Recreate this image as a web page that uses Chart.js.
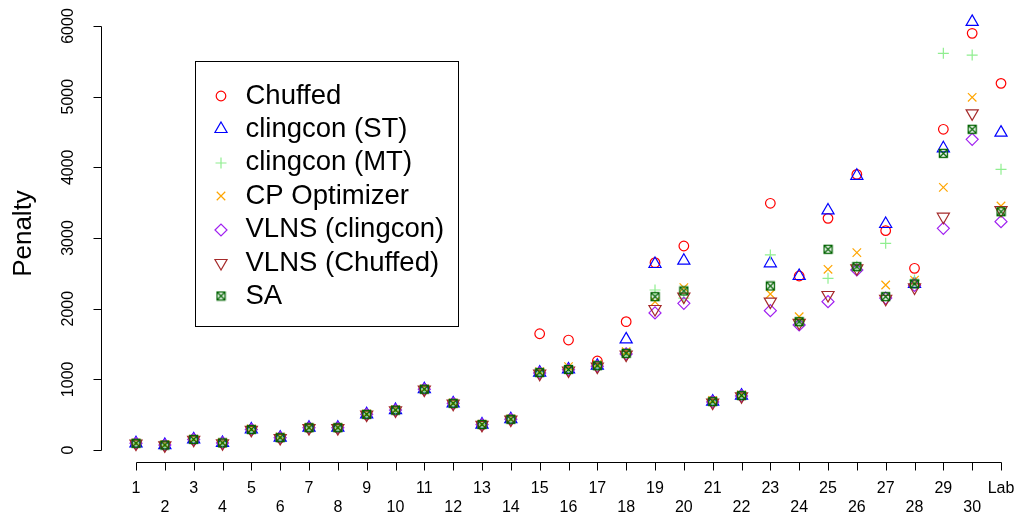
<!DOCTYPE html>
<html>
<head>
<meta charset="utf-8">
<script src="https://cdn.jsdelivr.net/npm/chart.js@4"></script>
<style>
  html, body { margin: 0; padding: 0; background: #fff; }
  #wrap { width: 1022px; height: 518px; }
</style>
</head>
<body>
<div id="wrap"><canvas id="penaltyChart" width="1022" height="518"></canvas></div>
<script>
// instance labels on the x axis
const categories = ['1','2','3','4','5','6','7','8','9','10','11','12','13','14','15','16','17','18','19','20',
                    '21','22','23','24','25','26','27','28','29','30','Lab'];
const yTicks = [0, 1000, 2000, 3000, 4000, 5000, 6000];

// penalty values per solver
const chuffed     = [95,70,150,100,290,175,315,315,505,565,860,660,360,435,1645,1556,1260,1816,2651,2887,690,770,3491,2462,3278,3900,3104,2571,4538,5896,5188];
const clingconST  = [95,70,150,100,290,175,315,315,505,565,860,660,360,435,1095,1140,1193,1566,2632,2679,685,770,2642,2462,3390,3880,3198,2350,4269,6058,4491];
const clingconMT  = [95,70,150,100,290,175,315,315,505,565,860,660,360,435,1095,1140,1193,1368,2264,2150,685,770,2760,1816,2430,2600,2925,2405,5613,5589,3972];
const cpOptimizer = [100,75,155,105,300,185,320,320,510,570,865,665,365,440,1110,1180,1210,1390,2100,2297,700,780,2208,1886,2557,2793,2335,2405,3717,4991,3453];
const vlnsClingcon= [95,70,150,100,290,175,315,315,505,565,860,660,360,435,1090,1135,1185,1360,1940,2075,680,765,1972,1769,2099,2547,2150,2330,3137,4396,3231];
const vlnsChuffed = [90,65,145,95,285,170,310,310,500,560,855,655,355,430,1080,1125,1180,1350,1995,2170,670,760,2099,1800,2193,2571,2140,2300,3301,4764,3396];
const sa          = [95,70,150,100,290,175,315,315,505,565,860,660,360,435,1095,1140,1193,1368,2170,2250,685,770,2321,1816,2840,2594,2170,2350,4198,4538,3372];

const seriesNames = ['Chuffed','clingcon (ST)','clingcon (MT)','CP Optimizer','VLNS (clingcon)','VLNS (Chuffed)','SA'];
const seriesData = [chuffed, clingconST, clingconMT, cpOptimizer, vlnsClingcon, vlnsChuffed, sa];
const seriesColors = ['#FF0000','#0000FF','#90EE90','#FFA500','#A020F0','#A52A2A','#006400'];

// boxed X marker for SA (no built-in style for it)
function boxX(color) {
    const c = document.createElement('canvas');
    c.width = 11; c.height = 11;
    const g = c.getContext('2d');
    g.strokeStyle = color;
    g.lineWidth = 1.3;
    g.strokeRect(1.5, 1.5, 8, 8);
    g.beginPath();
    g.moveTo(1.5, 1.5); g.lineTo(9.5, 9.5);
    g.moveTo(9.5, 1.5); g.lineTo(1.5, 9.5);
    g.stroke();
    return c;
}

const styles = [
    { pointStyle: 'circle',   radius: 4.8, rotation: 0 },
    { pointStyle: 'triangle', radius: 7,   rotation: 0 },
    { pointStyle: 'cross',    radius: 5.5, rotation: 0 },
    { pointStyle: 'crossRot', radius: 6,   rotation: 0 },
    { pointStyle: 'rectRot',  radius: 6,   rotation: 0 },
    { pointStyle: 'triangle', radius: 7,   rotation: 180 },
    { pointStyle: boxX('#006400'), radius: 5, rotation: 0 }
];

const datasets = seriesData.map((vals, i) => ({
    label: seriesNames[i],
    data: vals.map((v, j) => ({ x: j + 1, y: v })),
    borderColor: seriesColors[i],
    backgroundColor: 'transparent',
    pointStyle: styles[i].pointStyle,
    pointRadius: styles[i].radius,
    pointRotation: styles[i].rotation,
    pointBorderWidth: 1.2,
    showLine: false,
    order: seriesData.length - i // SA drawn on top
}));

const FONT = '"Liberation Sans", Arial, Helvetica, sans-serif';

// R-like axes, labels and legend box
const rAxes = {
    id: 'rAxes',
    afterDraw(chart) {
        const ctx = chart.ctx;
        const xs = chart.scales.x, ys = chart.scales.y;
        const area = chart.chartArea;
        ctx.save();
        ctx.strokeStyle = '#000';
        ctx.fillStyle = '#000';
        ctx.lineWidth = 1;

        // y axis
        const ax = Math.round(area.left) + 0.5;
        ctx.beginPath();
        ctx.moveTo(ax, Math.round(ys.getPixelForValue(0)) + 0.5);
        ctx.lineTo(ax, Math.round(ys.getPixelForValue(6000)) + 0.5);
        ctx.font = '16px ' + FONT;
        ctx.textAlign = 'center';
        ctx.textBaseline = 'middle';
        yTicks.forEach(t => {
            const py = Math.round(ys.getPixelForValue(t)) + 0.5;
            ctx.moveTo(ax, py);
            ctx.lineTo(ax - 8, py);
        });
        ctx.stroke();
        yTicks.forEach(t => {
            const py = ys.getPixelForValue(t);
            ctx.save();
            ctx.translate(ax - 33, py);
            ctx.rotate(-Math.PI / 2);
            ctx.fillText(String(t), 0, 0);
            ctx.restore();
        });

        // x axis
        const ay = Math.round(area.bottom) + 0.5;
        ctx.beginPath();
        ctx.moveTo(Math.round(xs.getPixelForValue(1)) + 0.5, ay);
        ctx.lineTo(Math.round(xs.getPixelForValue(categories.length)) + 0.5, ay);
        categories.forEach((c, i) => {
            const px = Math.round(xs.getPixelForValue(i + 1)) + 0.5;
            ctx.moveTo(px, ay);
            ctx.lineTo(px, ay + 8);
        });
        ctx.stroke();
        categories.forEach((c, i) => {
            const px = xs.getPixelForValue(i + 1);
            ctx.fillText(c, px, i % 2 === 0 ? 489 : 508);
        });

        // y title
        ctx.save();
        ctx.font = '26px ' + FONT;
        ctx.textBaseline = 'alphabetic';
        ctx.translate(31, (area.top + area.bottom) / 2);
        ctx.rotate(-Math.PI / 2);
        ctx.fillText('Penalty', 0, 0);
        ctx.restore();

        // legend
        ctx.strokeRect(195.5, 61.5, 263, 265);
        ctx.font = '27.5px ' + FONT;
        ctx.textAlign = 'left';
        ctx.textBaseline = 'middle';
        seriesNames.forEach((name, i) => {
            const ly = 96 + i * 33.4;
            ctx.strokeStyle = seriesColors[i];
            ctx.fillStyle = 'rgba(0,0,0,0)';
            ctx.lineWidth = 1.2;
            if (Chart.helpers && Chart.helpers.drawPoint) {
                Chart.helpers.drawPoint(ctx, {
                    pointStyle: styles[i].pointStyle,
                    rotation: styles[i].rotation,
                    radius: styles[i].radius,
                    borderWidth: 1.2
                }, 221, Math.round(ly));
            }
            ctx.fillStyle = '#000';
            ctx.fillText(name, 245.5, ly);
        });
        ctx.restore();
    }
};

new Chart(document.getElementById('penaltyChart'), {
    type: 'scatter',
    data: { datasets: datasets },
    options: {
        responsive: false,
        animation: false,
        devicePixelRatio: 1,
        layout: { autoPadding: false, padding: { left: 101, top: 5, right: 0, bottom: 56 } },
        plugins: { legend: { display: false }, tooltip: { enabled: false } },
        scales: {
            x: { type: 'linear', min: -0.2139, max: 31.728, display: false },
            y: { type: 'linear', min: -169.8, max: 6297, display: false }
        }
    },
    plugins: [rAxes]
});
</script>
</body>
</html>
